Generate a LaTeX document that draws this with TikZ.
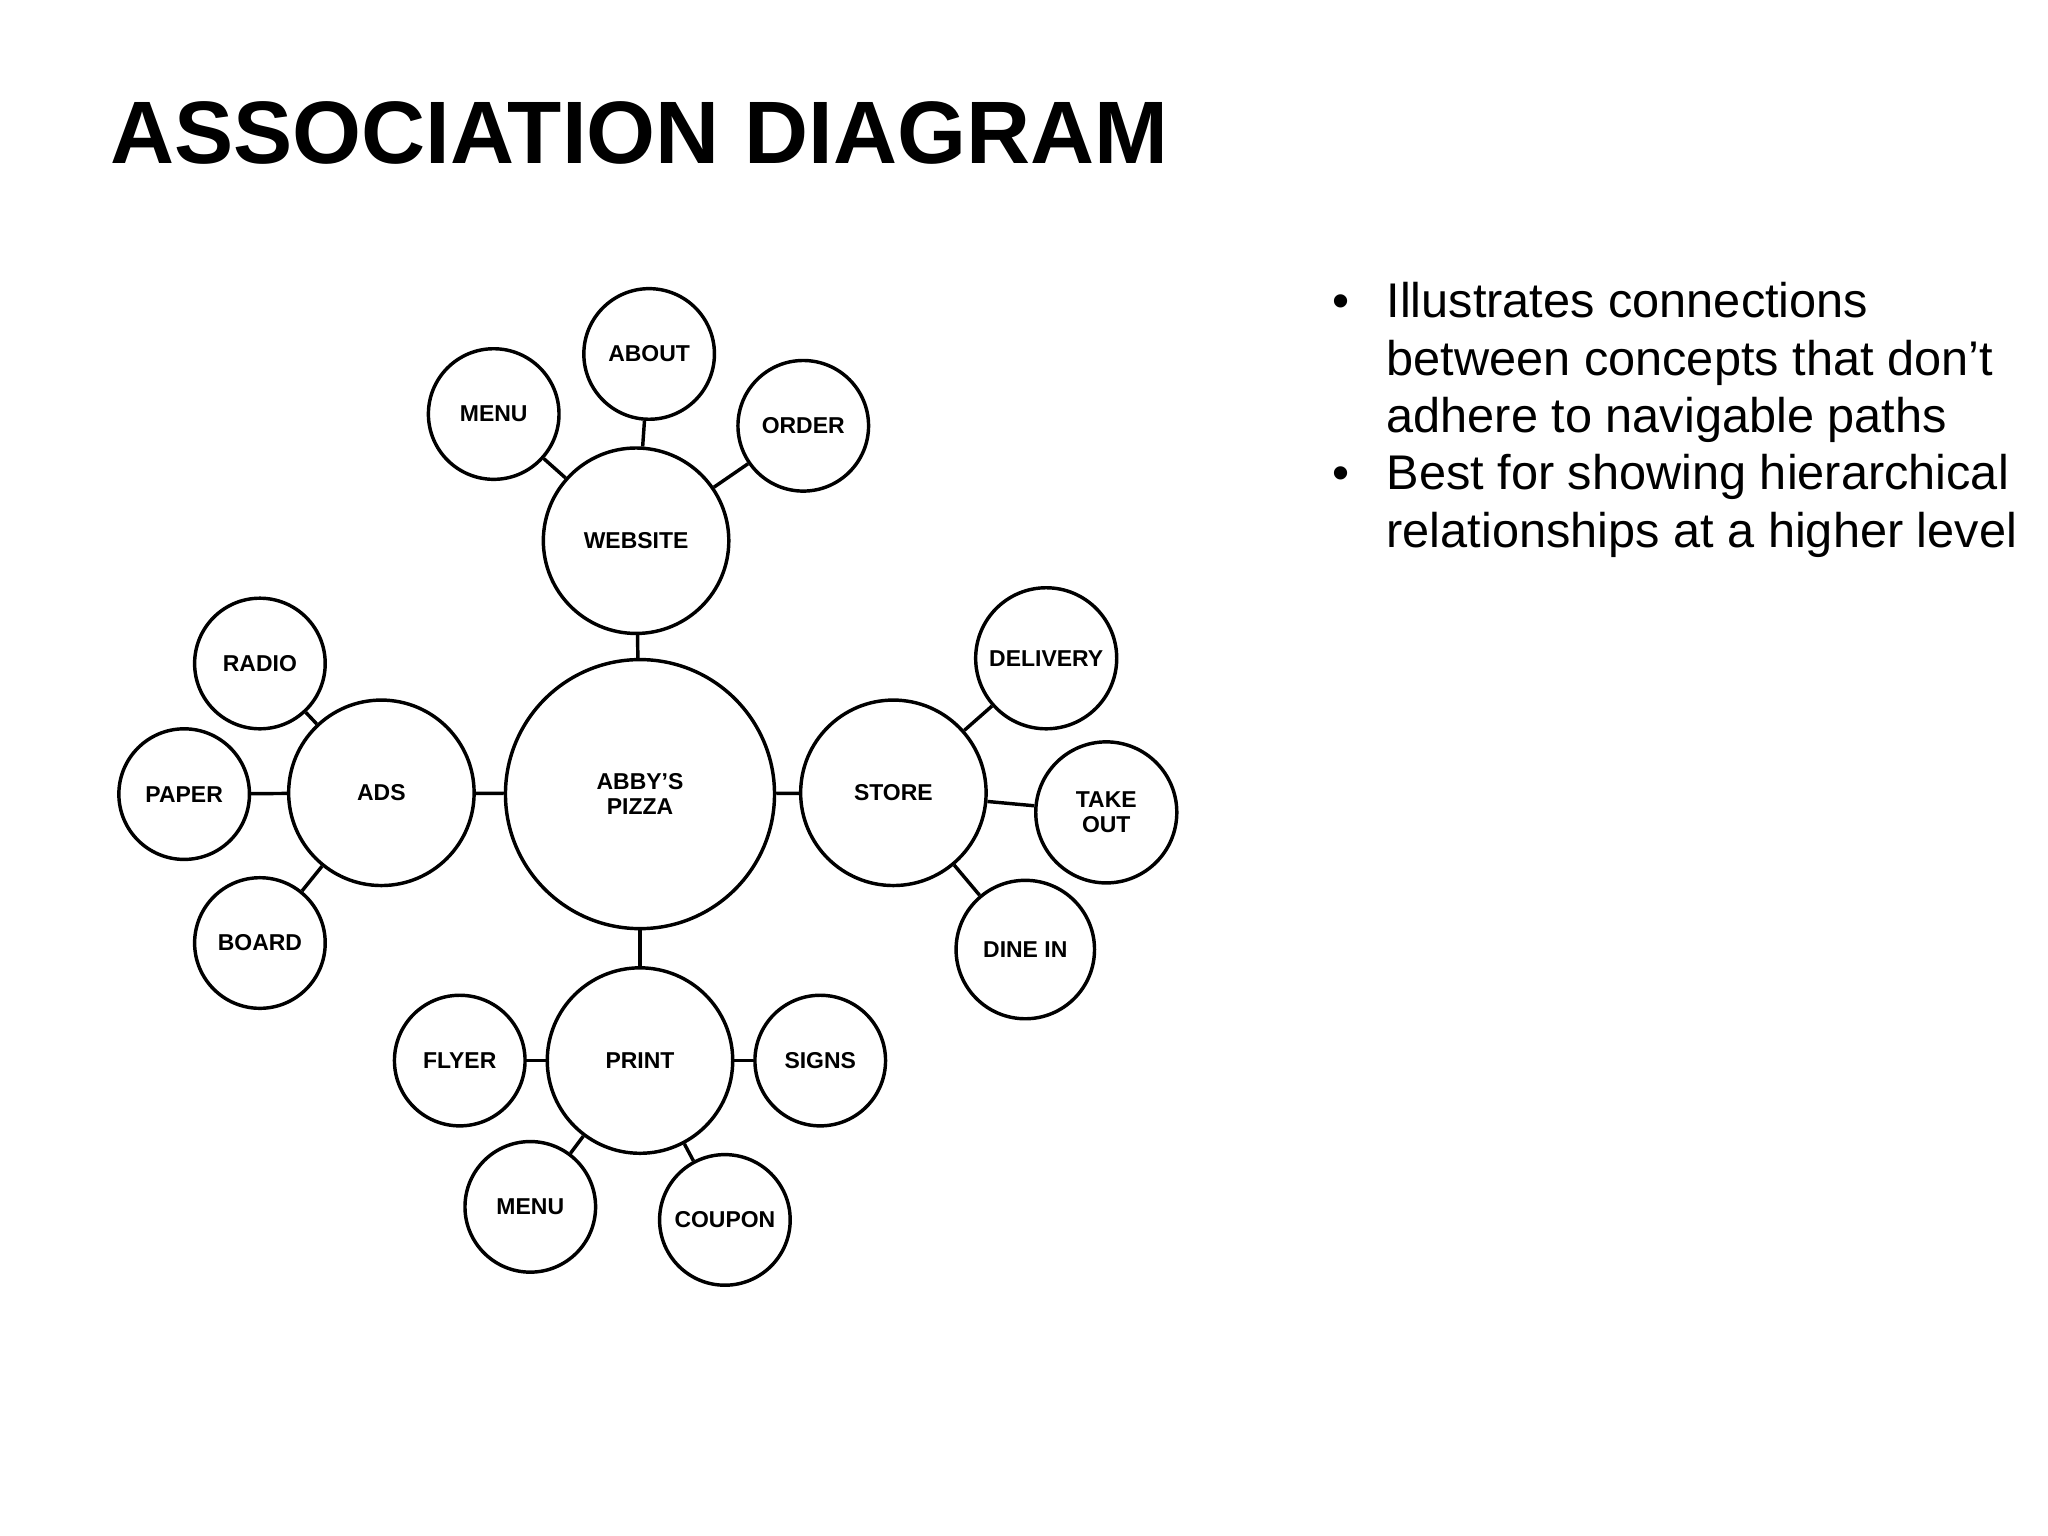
\documentclass[tikz,border=0pt]{standalone}
\usepackage{fontspec}
\setmainfont{Liberation Sans}
\begin{document}
\begin{tikzpicture}[x=0.01cm,y=-0.01cm,
  bub/.style={circle,draw,line width=0.75pt,inner sep=0pt,align=center,font=\fontsize{5}{5.5}\selectfont\bfseries},
  lnk/.style={line width=0.75pt}]
\useasboundingbox (0,0) rectangle (1568,1176);
\node[anchor=west,font=\fontsize{19}{20}\selectfont\bfseries] (title) at (72,102) {\resizebox{810\dimexpr0.01cm\relax}{!}{ASSOCIATION DIAGRAM}};
\node[anchor=north west,align=left,font=\fontsize{10.6}{12.5}\selectfont] (txt) at (1008,200) {%
\begin{tabular}{@{}l@{\hspace{8pt}}l@{}}
\textbullet & Illustrates connections\\
 & between concepts that don’t\\
 & adhere to navigable paths\\
\textbullet & Best for showing hierarchical\\
 & relationships at a higher level
\end{tabular}};
\newcommand{\bb}[4]{\node[bub,minimum size=#3*2*0.01cm] (#1) at (#2) {#4};}
\bb{about}{497,271}{50}{ABOUT}
\bb{menua}{378,317}{50}{MENU}
\bb{order}{615,326}{50}{ORDER}
\bb{web}{487,414}{71}{WEBSITE}
\bb{radio}{199,508}{50}{RADIO}
\bb{deliv}{801,504}{54}{DELIVERY}
\bb{ads}{292,607}{71}{ADS}
\bb{paper}{141,608}{50}{PAPER}
\bb{abby}{490,608}{103}{ABBY'S\\PIZZA}
\bb{store}{684,607}{71}{STORE}
\bb{take}{847,622}{54}{TAKE\\OUT}
\bb{board}{199,722}{50}{BOARD}
\bb{dine}{785,727}{53}{DINE IN}
\bb{flyer}{352,812}{50}{FLYER}
\bb{print}{490,812}{71}{PRINT}
\bb{signs}{628,812}{50}{SIGNS}
\bb{menub}{406,924}{50}{MENU}
\bb{coupon}{555,934}{50}{COUPON}
\foreach \a/\b in {web/about,web/menua,web/order,abby/web,abby/ads,abby/store,abby/print,
  ads/radio,ads/paper,ads/board,store/deliv,store/take,store/dine,
  print/flyer,print/signs,print/menub,print/coupon}
  \draw[lnk] (\a) -- (\b);
\end{tikzpicture}
\end{document}
